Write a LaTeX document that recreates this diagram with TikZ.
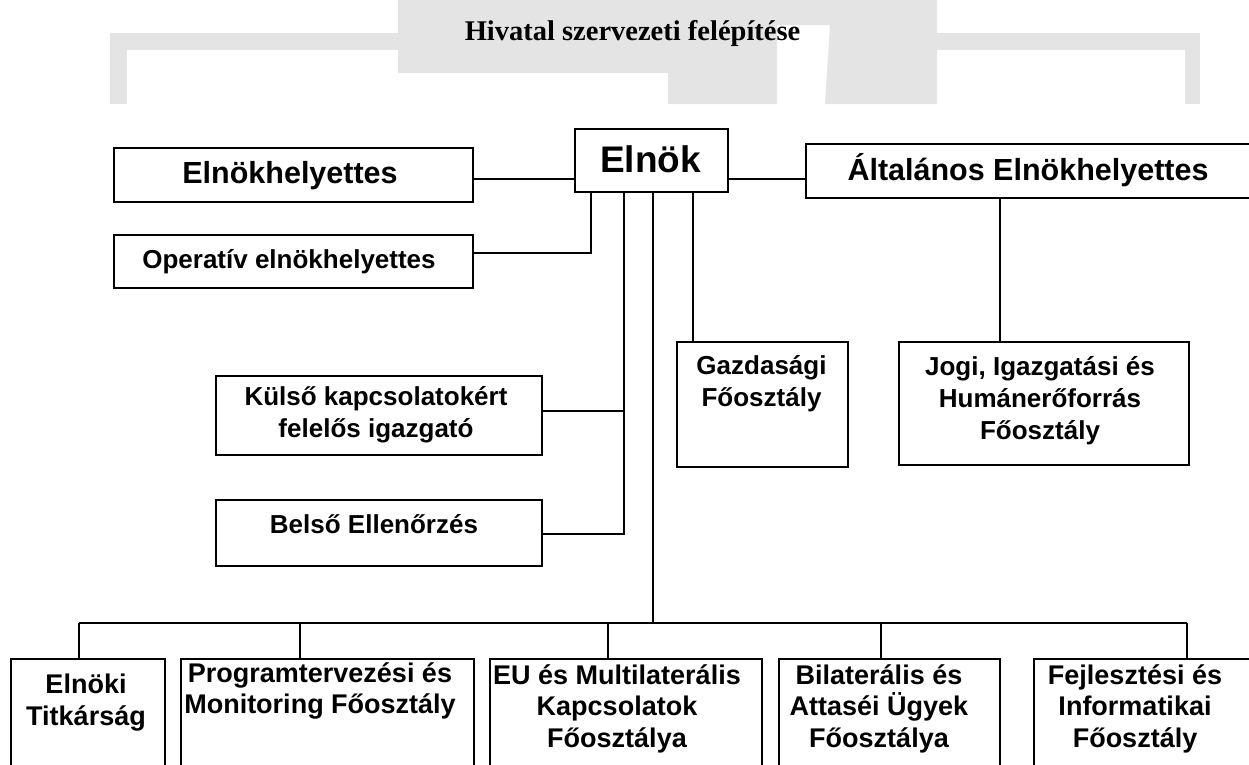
\documentclass[tikz,border=0pt]{standalone}
\usepackage{fontspec}
\setmainfont{Liberation Sans}
\newfontfamily\titlefont{Liberation Serif}
\usetikzlibrary{calc}
\definecolor{wm}{RGB}{228,228,228}
\tikzset{
  box/.style={draw, line width=1.7pt, inner sep=0pt, anchor=north west},
  conn/.style={line width=1.5pt},
  txt/.style={inner sep=0pt, align=center, anchor=north, font=\bfseries\fontsize{26}{32}\selectfont, execute at begin node={\rule{0pt}{25pt}}},
  btxt/.style={txt, font=\bfseries\fontsize{27}{31.5}\selectfont},
  stxt/.style={inner sep=0pt, anchor=base, font=\bfseries\fontsize{26}{32}\selectfont},
}
\begin{document}
\begin{tikzpicture}[x=1pt, y=-1pt]
\useasboundingbox (0,0) rectangle (1249,764);
\clip (0,0) rectangle (1249,764);
% background watermark
\fill[wm] (110,33) rectangle (398,50);
\fill[wm] (110,33) rectangle (127,104);
\fill[wm] (398,0) rectangle (668,73);
\fill[wm] (668,0) -- (937,0) -- (937,104) -- (825,104) -- (830,25) -- (777,25) -- (777,104) -- (668,104) -- cycle;
\fill[wm] (937,33) rectangle (1200,50);
\fill[wm] (1185,33) rectangle (1200,104);
% title
\node[inner sep=0pt, anchor=base, font=\titlefont\bfseries\fontsize{28.5}{34}\selectfont] (title) at (632.5,40) {Hivatal szervezeti felépítése};
% boxes
\node[box, minimum width=153pt, minimum height=63pt] (elnok) at (574,128) {};
\node[box, minimum width=359pt, minimum height=54pt] (elnokh) at (113,147) {};
\node[box, minimum width=359pt, minimum height=53pt] (oper) at (113,234) {};
\node[box, minimum width=450pt, minimum height=54pt] (altal) at (805,143) {};
\node[box, minimum width=326pt, minimum height=79pt] (kulso) at (215,375) {};
\node[box, minimum width=326pt, minimum height=66pt] (belso) at (215,499) {};
\node[box, minimum width=171pt, minimum height=125pt] (gazd) at (676,341) {};
\node[box, minimum width=290pt, minimum height=123pt] (jogi) at (898,341) {};
\node[box, minimum width=154pt, minimum height=130pt] (titk) at (10,658) {};
\node[box, minimum width=293pt, minimum height=130pt] (prog) at (180,658) {};
\node[box, minimum width=272pt, minimum height=130pt] (eu) at (489,658) {};
\node[box, minimum width=221pt, minimum height=130pt] (bilat) at (778,658) {};
\node[box, minimum width=240pt, minimum height=130pt] (fejl) at (1033,658) {};
% texts
\node[stxt, font=\bfseries\fontsize{37}{40}\selectfont] (elnokT) at (650.5,172) {Elnök};
\node[stxt, font=\bfseries\fontsize{30.5}{34}\selectfont] (elnokhT) at (290,183) {Elnökhelyettes};
\node[stxt] (operT) at (289,268) {Operatív elnökhelyettes};
\node[stxt, font=\bfseries\fontsize{30.5}{34}\selectfont] (altalT) at (1028,180) {Általános Elnökhelyettes};
\node[txt] (kulsoT) at (376,386) {Külső kapcsolatokért\\felelős igazgató};
\node[stxt] (belsoT) at (374,533) {Belső Ellenőrzés};
\node[txt] (gazdT) at (761.5,355) {Gazdasági\\Főosztály};
\node[txt] (jogiT) at (1040,356) {Jogi, Igazgatási és\\Humánerőforrás\\Főosztály};
\node[btxt] (titkT) at (86,674) {Elnöki\\Titkárság};
\node[btxt] (progT) at (320,662) {Programtervezési és\\Monitoring Főosztály};
\node[btxt] (euT) at (617,664) {EU és Multilaterális\\Kapcsolatok\\Főosztálya};
\node[btxt] (bilatT) at (879,664) {Bilaterális és\\Attaséi Ügyek\\Főosztálya};
\node[btxt] (fejlT) at (1135,664) {Fejlesztési és\\Informatikai\\Főosztály};
% helper coordinates
\coordinate (ly) at (0,179);
\coordinate (ly2) at (0,253);
\coordinate (ly3) at (0,411);
\coordinate (ly4) at (0,534);
\coordinate (bus) at (0,623);
\coordinate (x591) at (591,0);
\coordinate (x624) at (624,0);
\coordinate (x653) at (653,0);
\coordinate (x693) at (693,0);
\coordinate (x1000) at (1000,0);
\coordinate (d1) at (79,0);
\coordinate (d2) at (300,0);
\coordinate (d3) at (608,0);
\coordinate (d4) at (881,0);
\coordinate (d5) at (1187,0);
% connectors
\draw[conn] (elnokh.east |- ly) -- (elnok.west |- ly);
\draw[conn] (elnok.east |- ly) -- (altal.west |- ly);
\draw[conn] (oper.east |- ly2) -- (x591 |- ly2) -- (x591 |- elnok.south);
\draw[conn] (x624 |- elnok.south) -- (x624 |- ly4) -- (belso.east |- ly4);
\draw[conn] (kulso.east |- ly3) -- (x624 |- ly3);
\draw[conn] (x693 |- elnok.south) -- (x693 |- gazd.north);
\draw[conn] (x1000 |- altal.south) -- (x1000 |- jogi.north);
\draw[conn] (x653 |- elnok.south) -- (x653 |- bus);
\draw[conn] (d1 |- bus) -- (d5 |- bus);
\draw[conn] (d1 |- bus) -- (d1 |- titk.north);
\draw[conn] (d2 |- bus) -- (d2 |- prog.north);
\draw[conn] (d3 |- bus) -- (d3 |- eu.north);
\draw[conn] (d4 |- bus) -- (d4 |- bilat.north);
\draw[conn] (d5 |- bus) -- (d5 |- fejl.north);
\end{tikzpicture}
\end{document}
